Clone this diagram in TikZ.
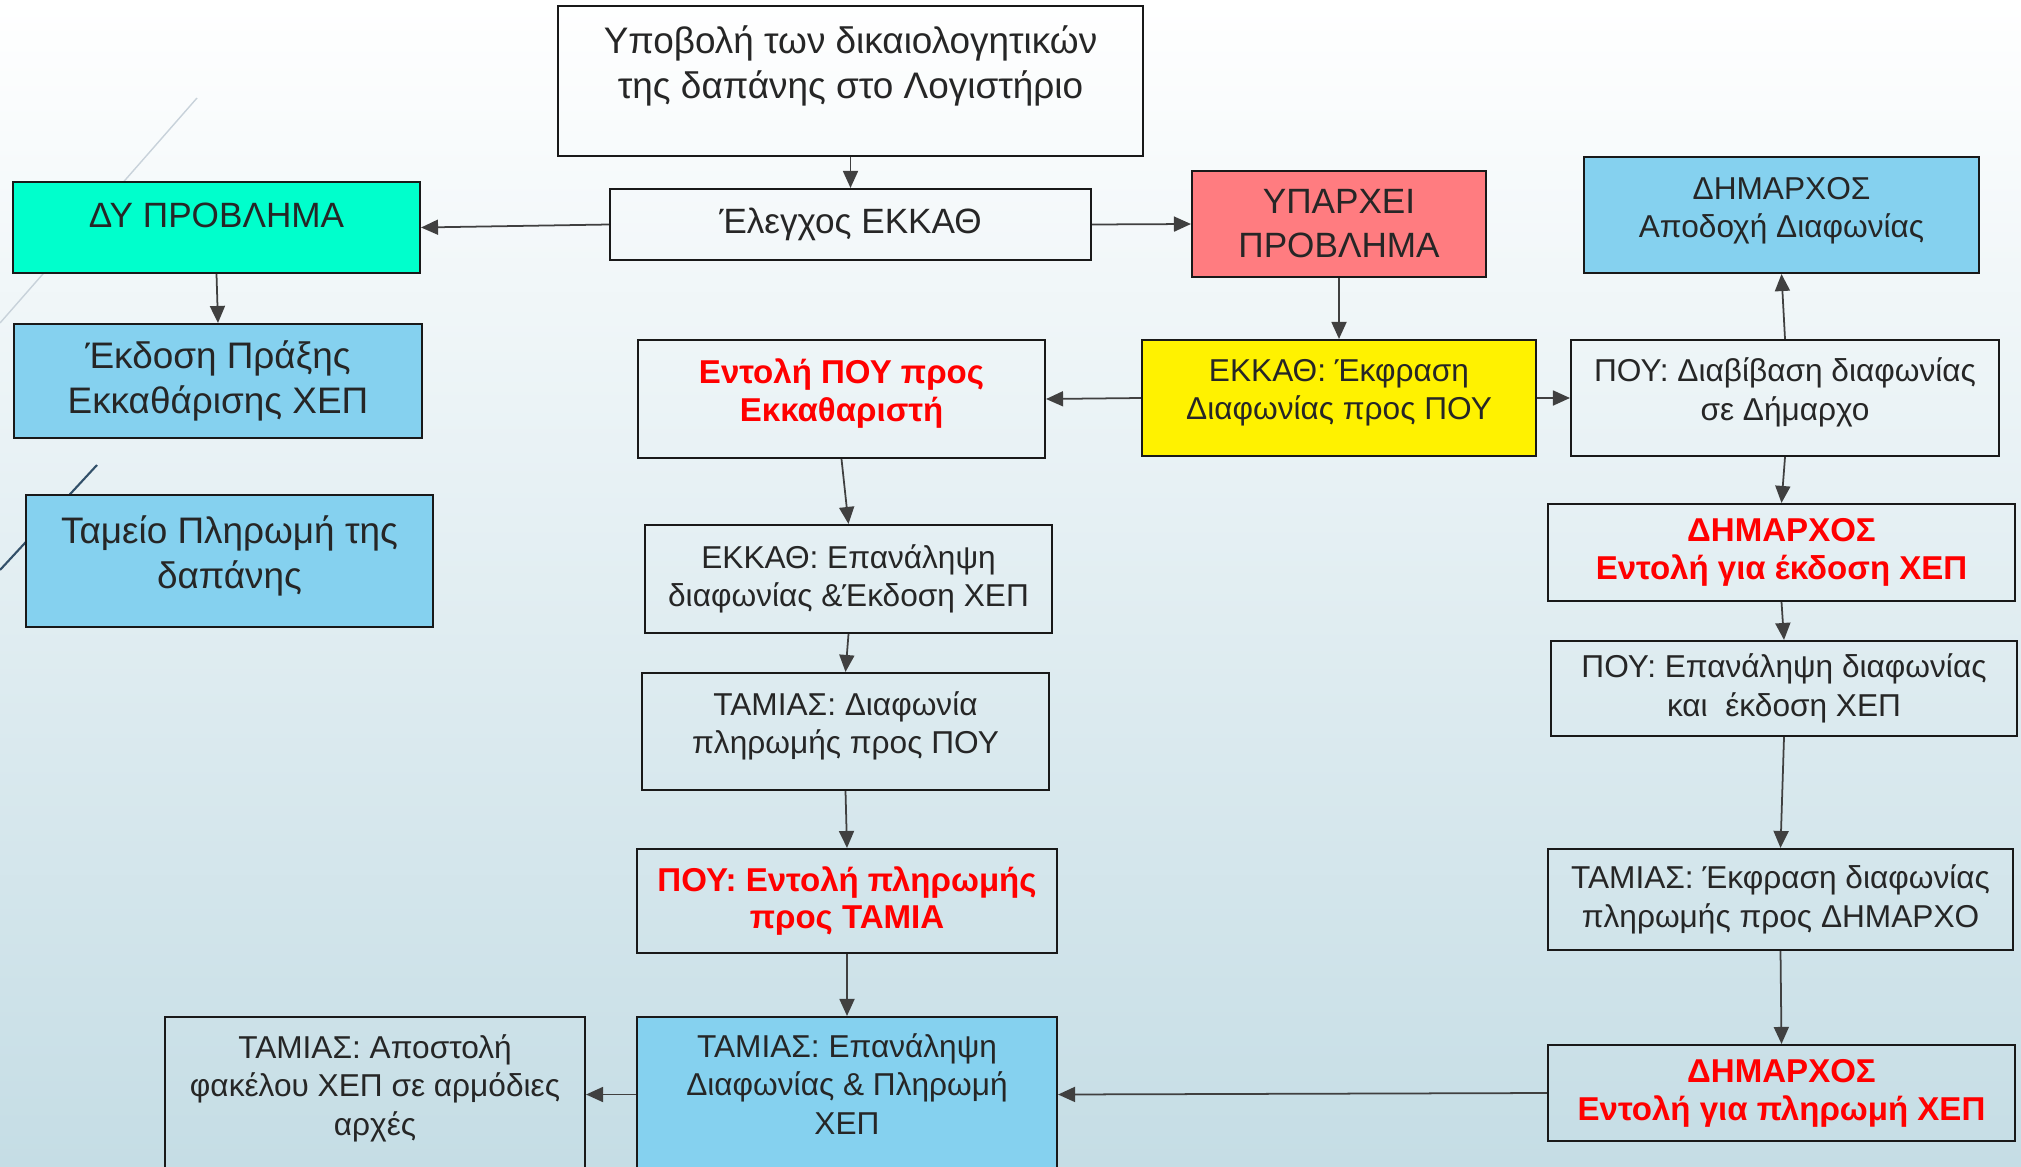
\documentclass[tikz,border=0pt]{standalone}
\usepackage{fontspec}
\setmainfont{Liberation Sans}
\usepackage{xcolor}
\usepackage{tikz}
\usetikzlibrary{arrows.meta}

\definecolor{bgblue}{RGB}{197,221,229}
\definecolor{mint}{RGB}{0,255,204}
\definecolor{salmon}{RGB}{255,124,128}
\definecolor{sky}{RGB}{133,209,239}
\definecolor{txt}{RGB}{38,38,38}
\definecolor{edge}{RGB}{64,64,64}
\definecolor{lightline}{RGB}{200,210,218}
\definecolor{darkline}{RGB}{50,80,105}

\tikzset{
  box/.style={draw=black!90, line width=0.6pt, align=center, text=txt, inner sep=2pt},
  largetxt/.style={font=\fontsize{10.5}{12.8}\selectfont},
  capstxt/.style={font=\fontsize{10}{12.5}\selectfont},
  smalltxt/.style={font=\fontsize{9}{10.9}\selectfont},
  redbold/.style={font=\fontsize{9.4}{10.8}\selectfont\bfseries, text=red},
  lift/.style={text depth=#1},
  flow/.style={draw=edge, line width=0.5pt, -{Triangle[length=1.7mm,width=1.5mm]}}
}

\begin{document}
\begin{tikzpicture}

  \useasboundingbox (0,0) rectangle (20.21,-11.66);
  \clip (0,0) rectangle (20.21,-11.66);
  \shade[top color=white, bottom color=bgblue] (0,0) rectangle (20.21,-11.66);

  \draw[lightline, line width=0.4pt] (1.97,-0.98) -- (0,-3.23);
  \draw[darkline, line width=0.6pt] (0.97,-4.65) -- (0,-5.70);

  % left column
  \node[box, capstxt, fill=mint, minimum width=4.07cm, minimum height=0.91cm, lift=7pt] (dy) at (2.165,-2.275) {ΔΥ ΠΡΟΒΛΗΜΑ};
  \node[box, largetxt, fill=sky, minimum width=4.08cm, minimum height=1.14cm] (ekdosi) at (2.18,-3.81) {Έκδοση Πράξης\\Εκκαθάρισης ΧΕΠ};
  \node[box, largetxt, fill=sky, minimum width=4.07cm, minimum height=1.32cm, lift=5pt] (tameio) at (2.295,-5.61) {Ταμείο Πληρωμή της\\δαπάνης};
  \node[box, smalltxt, minimum width=4.20cm, minimum height=1.55cm, lift=5.5pt] (apostoli) at (3.75,-10.945) {ΤΑΜΙΑΣ: Αποστολή\\φακέλου ΧΕΠ σε αρμόδιες\\αρχές};

  % middle column
  \node[box, largetxt, minimum width=5.85cm, minimum height=1.50cm, lift=11pt] (sub) at (8.505,-0.81) {Υποβολή των δικαιολογητικών\\της δαπάνης στο Λογιστήριο};
  \node[box, capstxt, minimum width=4.81cm, minimum height=0.71cm] (elegxos) at (8.505,-2.245) {Έλεγχος ΕΚΚΑΘ};
  \node[box, redbold, minimum width=4.07cm, minimum height=1.18cm, lift=5pt] (entoli) at (8.415,-3.99) {Εντολή ΠΟΥ προς\\Εκκαθαριστή};
  \node[box, smalltxt, minimum width=4.07cm, minimum height=1.08cm] (epanal) at (8.485,-5.79) {ΕΚΚΑΘ: Επανάληψη\\διαφωνίας \&Έκδοση ΧΕΠ};
  \node[box, smalltxt, minimum width=4.07cm, minimum height=1.17cm, lift=5pt] (diafonia) at (8.455,-7.315) {ΤΑΜΙΑΣ: Διαφωνία\\πληρωμής προς ΠΟΥ};
  \node[box, redbold, minimum width=4.20cm, minimum height=1.04cm] (pouEntoli) at (8.47,-9.01) {ΠΟΥ: Εντολή πληρωμής\\προς ΤΑΜΙΑ};
  \node[box, smalltxt, fill=sky, minimum width=4.20cm, minimum height=1.55cm, lift=6pt] (tamEpan) at (8.47,-10.945) {ΤΑΜΙΑΣ: Επανάληψη\\Διαφωνίας \& Πληρωμή\\ΧΕΠ};

  % right columns
  \node[box, capstxt, fill=salmon, minimum width=2.94cm, minimum height=1.06cm] (yparxei) at (13.39,-2.24) {ΥΠΑΡΧΕΙ\\ΠΡΟΒΛΗΜΑ};
  \node[box, smalltxt, fill=yellow, minimum width=3.94cm, minimum height=1.16cm, lift=5pt] (ekfrasi) at (13.39,-3.98) {ΕΚΚΑΘ: Έκφραση\\Διαφωνίας προς ΠΟΥ};
  \node[box, smalltxt, fill=sky, minimum width=3.95cm, minimum height=1.16cm, lift=4.3pt] (apodoxi) at (17.815,-2.15) {ΔΗΜΑΡΧΟΣ\\Αποδοχή Διαφωνίας};
  \node[box, smalltxt, minimum width=4.28cm, minimum height=1.16cm, lift=5pt] (diavivasi) at (17.85,-3.98) {ΠΟΥ: Διαβίβαση διαφωνίας\\σε Δήμαρχο};
  \node[box, redbold, minimum width=4.67cm, minimum height=0.97cm] (dimEkd) at (17.815,-5.525) {ΔΗΜΑΡΧΟΣ\\Εντολή για έκδοση ΧΕΠ};
  \node[box, smalltxt, minimum width=4.66cm, minimum height=0.95cm] (pouEpan) at (17.84,-6.885) {ΠΟΥ: Επανάληψη διαφωνίας\\και\ \ έκδοση ΧΕΠ};
  \node[box, smalltxt, minimum width=4.65cm, minimum height=1.01cm] (tamEkfr) at (17.805,-8.995) {ΤΑΜΙΑΣ: Έκφραση διαφωνίας\\πληρωμής προς ΔΗΜΑΡΧΟ};
  \node[box, redbold, minimum width=4.67cm, minimum height=0.96cm] (dimPlir) at (17.815,-10.93) {ΔΗΜΑΡΧΟΣ\\Εντολή για πληρωμή ΧΕΠ};

  \draw[flow] (sub) -- (elegxos);
  \draw[flow] (elegxos.west) -- (dy.east);
  \draw[flow] (elegxos.east) -- (yparxei.west);
  \draw[flow] (dy.south) -- (ekdosi.north);
  \draw[flow] (yparxei) -- (ekfrasi);
  \draw[flow] (ekfrasi.west) -- (entoli.east);
  \draw[flow] (ekfrasi.east) -- (diavivasi.west);
  \draw[flow] (diavivasi.north) -- (apodoxi.south);
  \draw[flow] (diavivasi.south) -- (dimEkd.north);
  \draw[flow] (dimEkd.south) -- (pouEpan.north);
  \draw[flow] (pouEpan.south) -- (tamEkfr.north);
  \draw[flow] (tamEkfr.south) -- (dimPlir.north);
  \draw[flow] (dimPlir.west) -- (tamEpan.east);
  \draw[flow] (entoli.south) -- (epanal.north);
  \draw[flow] (epanal.south) -- (diafonia.north);
  \draw[flow] (diafonia.south) -- (pouEntoli.north);
  \draw[flow] (pouEntoli.south) -- (tamEpan.north);
  \draw[flow] (tamEpan.west) -- (apostoli.east);
\end{tikzpicture}
\end{document}
